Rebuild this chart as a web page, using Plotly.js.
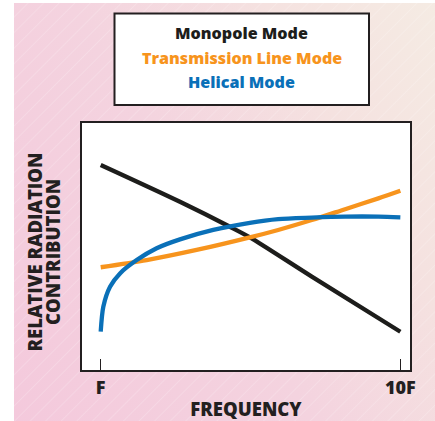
<!DOCTYPE html>
<html>
<head>
<meta charset="utf-8">
<script src="https://cdn.plot.ly/plotly-3.0.1.min.js"></script>
<style>
  html, body { margin: 0; padding: 0; background: #ffffff; }
  #bg {
    position: absolute; left: 14px; top: 3px; width: 421px; height: 418px;
    background:
      repeating-linear-gradient(135deg, rgba(255,255,255,0.0) 0px, rgba(255,255,255,0.0) 9px, rgba(255,255,255,0.18) 10px, rgba(255,255,255,0.0) 11px),
      linear-gradient(60deg, #f4c9dc 0%, #f4d3df 45%, #f5e2e0 75%, #f5ebe3 100%);
  }
  #chart { position: absolute; left: 0; top: 0; width: 435px; height: 421px; }
</style>
</head>
<body>
<div id="bg"></div>
<div id="chart"></div>
<script>
// Frequency positions (F = 1, 10F = 10) and relative contribution values
const tickValues = [1, 10];
const tickLabels = ["F", "10F"];
const seriesNames = ["Monopole Mode", "Transmission Line Mode", "Helical Mode"];
const xTitle = "FREQUENCY";
const yTitleLines = ["RELATIVE RADIATION", "CONTRIBUTION"];

const monopoleX = [1.0, 3.38, 4.88, 5.48, 7.34, 10.0];
const monopoleY = [83.0, 68.1, 58.0, 53.7, 37.8, 15.5];

const transmissionX = [1.0, 2.38, 3.88, 5.48, 6.33, 7.34, 8.34, 9.34, 10.0];
const transmissionY = [41.6, 44.5, 48.6, 53.7, 56.7, 60.7, 65.1, 69.5, 72.6];

const helicalX = [1.0, 1.078, 1.28, 1.58, 2.08, 2.68, 3.38, 4.38, 5.48, 6.33, 7.34, 8.34, 9.34, 10.0];
const helicalY = [15.5, 25.6, 33.7, 39.1, 44.5, 49.3, 52.9, 56.7, 59.6, 61.1, 61.7, 62.1, 62.1, 61.8];

const colors = ["#1d1d1b", "#f7941d", "#0a70b8"];
const INK = "#231f20";
const FONT = "Open Sans, Lato, DejaVu Sans, sans-serif";

function trace(x, y, i) {
  return {
    x: x, y: y, name: seriesNames[i], type: "scatter", mode: "lines",
    line: { color: colors[i], width: 4.3, shape: "spline", smoothing: 0.8 },
    hoverinfo: "skip"
  };
}

const data = [
  trace(monopoleX, monopoleY, 0),
  trace(transmissionX, transmissionY, 1),
  trace(helicalX, helicalY, 2)
];

// plot area in pixels: left 82, right 410, top 123, bottom 370
const PL = 82, PW = 328, PB = 370, PH = 247;
const px = function (x) { return (x - PL) / PW; };
const py = function (y) { return (PB - y) / PH; };

const annotations = seriesNames.map(function (name, i) {
  return {
    xref: "paper", yref: "paper",
    x: px(241.7), y: py([33.5, 58.3, 81.7][i]),
    text: name, showarrow: false, xanchor: "center", yanchor: "middle",
    font: { family: FONT, size: 16.1, weight: 800, color: colors[i] }
  };
});
yTitleLines.forEach(function (t, i) {
  annotations.push({
    xref: "paper", yref: "paper",
    x: px([34, 52.5][i]), y: py(252.5),
    text: t, showarrow: false, textangle: -90, xanchor: "center", yanchor: "middle",
    font: { family: FONT, size: 18.5, weight: 800, color: INK }
  });
});

const layout = {
  width: 435, height: 421,
  margin: { l: 82, r: 25, t: 123, b: 51 },
  paper_bgcolor: "rgba(0,0,0,0)",
  plot_bgcolor: "#ffffff",
  showlegend: false,
  font: { family: FONT, color: INK },
  xaxis: {
    range: [0.438, 10.29],
    tickvals: tickValues, ticktext: tickLabels,
    ticks: "inside", ticklen: 11, tickwidth: 1.5, tickcolor: INK,
    showgrid: false, zeroline: false,
    showline: true, mirror: true, linecolor: INK, linewidth: 2,
    tickfont: { family: FONT, size: 18, weight: 800, color: INK },
    ticklabelstandoff: 0,
    title: { text: xTitle, font: { family: FONT, size: 18.5, weight: 800, color: INK }, standoff: 17 },
    fixedrange: true
  },
  yaxis: {
    range: [0, 100],
    showticklabels: false, ticks: "",
    showgrid: false, zeroline: false,
    showline: true, mirror: true, linecolor: INK, linewidth: 2,
    fixedrange: true
  },
  shapes: [
    { type: "rect", xref: "paper", yref: "paper",
      x0: px(114.5), x1: px(369), y0: py(105), y1: py(13.5),
      line: { color: INK, width: 2 }, fillcolor: "#ffffff", layer: "above" }
  ],
  annotations: annotations
};

Plotly.newPlot("chart", data, layout, { displayModeBar: false, staticPlot: true });
</script>
</body>
</html>
